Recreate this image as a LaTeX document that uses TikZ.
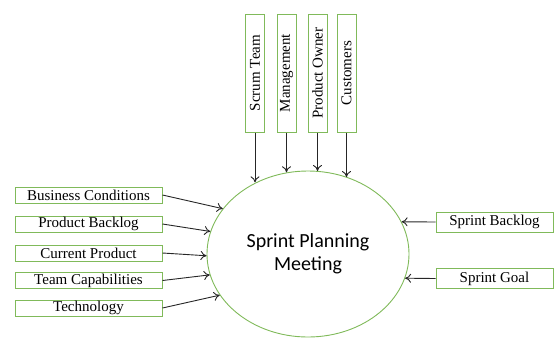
\documentclass[tikz,border=0pt]{standalone}
\usepackage{fontspec}
\setmainfont{Liberation Serif}
\newfontfamily\calibri{Carlito}
\usetikzlibrary{shapes.geometric,arrows.meta}

\begin{document}
\begin{tikzpicture}[x=1pt,y=-1pt,
  inbox/.style={draw=boxgreen,line width=1pt,inner sep=0pt,font=\fontsize{15}{16}\selectfont},
  arr/.style={-{To[length=6pt,width=9pt]},line width=0.9pt,black!85}]
% Colors
\definecolor{boxgreen}{RGB}{128,186,90}

\useasboundingbox (0,0) rectangle (554,338);

% Meeting in the middle
\node[draw=boxgreen,line width=0.9pt,ellipse,minimum width=202pt,minimum height=166pt,
  inner sep=0pt,align=center,font=\calibri\fontsize{20}{23}\selectfont] (spm) at (308,254)
  {Sprint Planning\\Meeting};

% Inputs on the left
\foreach \name/\y/\ang/\txt in {bc/195/152.9/Business Conditions,
                                pb/224/167.9/Product Backlog,
                                cp/253/181.7/Current Product,
                                tc/280.5/192.4/Team Capabilities,
                                tech/308/205/Technology} {
  \node[inbox,minimum width=147pt,minimum height=16pt] (\name) at (88.5,\y) {\txt};
  \draw[arr] (\name.east) -- (spm.\ang);
}

% Inputs from the top (vertical boxes)
\foreach \name/\x/\ang/\txt in {st/255/126.9/Scrum Team,
                                mgmt/286.5/104.9/Management,
                                po/317.5/83.4/Product Owner,
                                cust/346.5/63.3/Customers} {
  \node[inbox,rotate=90,minimum width=118pt,minimum height=19pt] (\name) at (\x,73) {\txt};
  \draw[arr] (\name.west) -- (\name.west |- spm.\ang);
}

% Outputs on the right
\node[inbox,minimum width=117pt,minimum height=20pt] (sb) at (494.5,222) {Sprint Backlog};
\node[inbox,minimum width=117pt,minimum height=20pt] (sg) at (494.5,278.5) {Sprint Goal};
\draw[arr] (sb.west) -- (spm.19);
\draw[arr] (sg.west) -- (spm.-14.9);

\end{tikzpicture}
\end{document}
